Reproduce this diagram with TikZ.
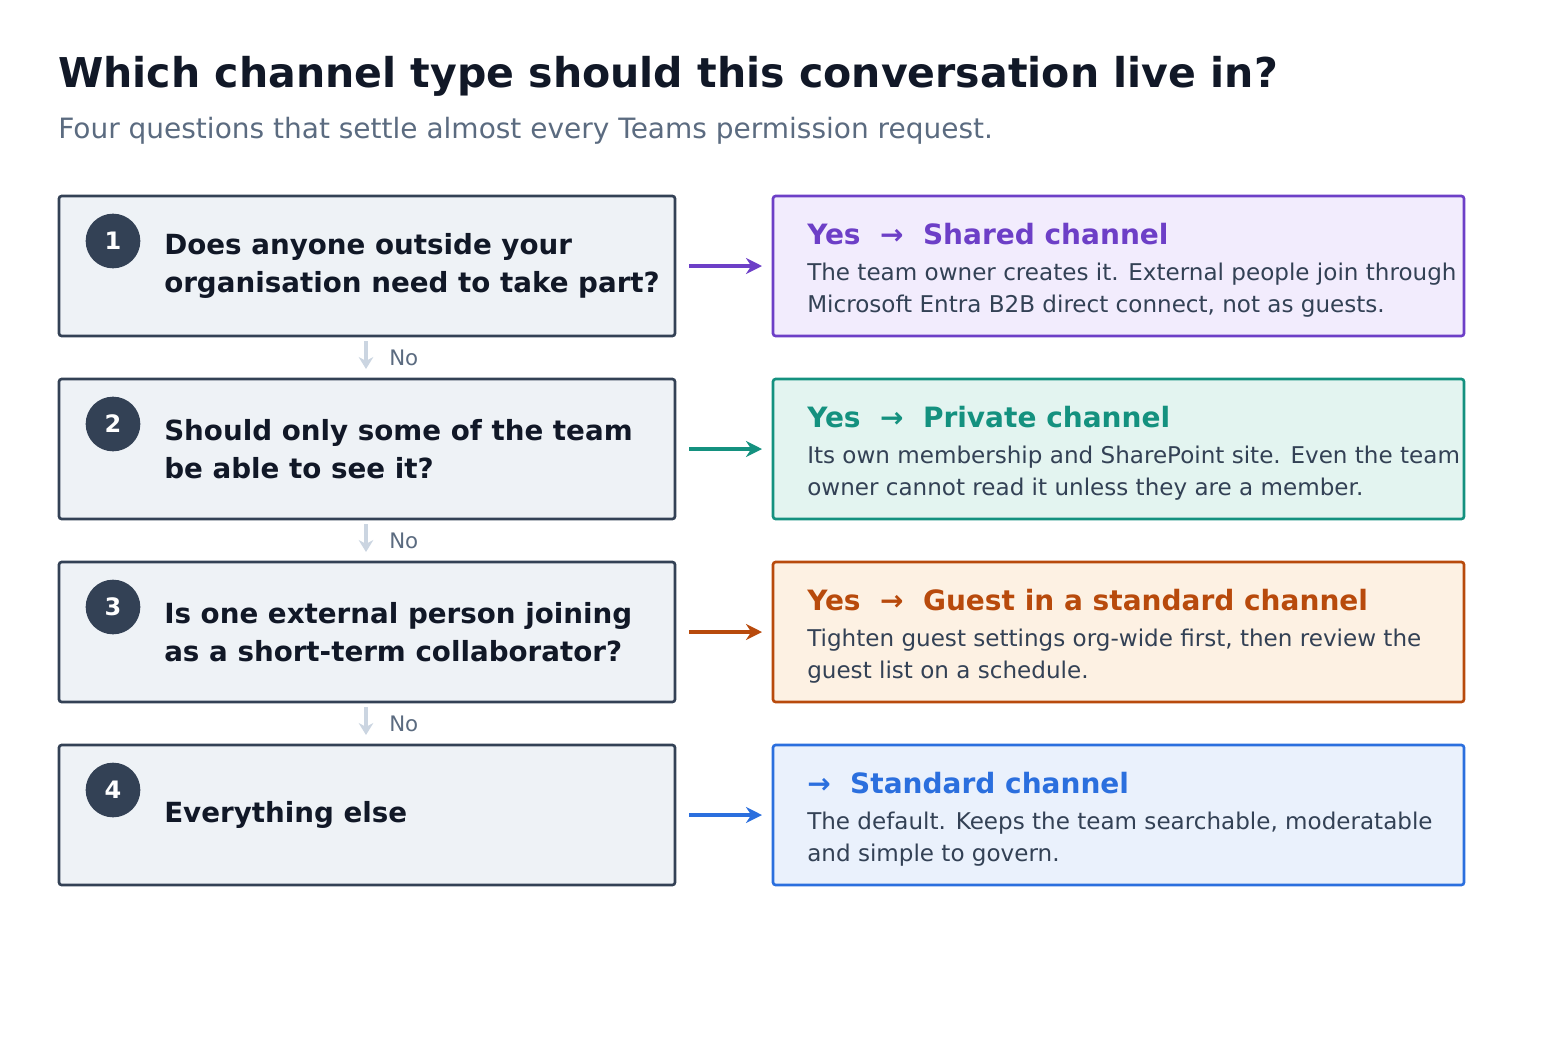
\documentclass[tikz,border=0pt]{standalone}
\usepackage{fontspec}
\setmainfont{DejaVu Sans}
\usetikzlibrary{positioning,arrows.meta}
\definecolor{ink}{HTML}{111827}
\definecolor{slate}{HTML}{334155}
\definecolor{muted}{HTML}{5B6B80}
\definecolor{qfill}{HTML}{EEF2F6}
\definecolor{nogrey}{HTML}{CBD5E1}
\definecolor{purp}{HTML}{6D3FC7}
\definecolor{purpfill}{HTML}{F2ECFD}
\definecolor{teal}{HTML}{14917F}
\definecolor{tealfill}{HTML}{E3F4F0}
\definecolor{rust}{HTML}{B84A0C}
\definecolor{rustfill}{HTML}{FDF1E3}
\definecolor{azure}{HTML}{2B6FDE}
\definecolor{azurefill}{HTML}{EAF1FC}
\tikzset{
  question/.style={draw=slate, fill=qfill, line width=2pt, rounded corners=2pt},
  answer/.style={line width=2pt, rounded corners=2pt},
  badge/.style={circle, fill=slate, minimum size=41pt, inner sep=0pt, text=white, font=\bfseries\fontsize{18}{18}\selectfont},
  qtext/.style={anchor=west, align=left, text=ink, inner sep=0pt, font=\bfseries\fontsize{20.8}{29}\selectfont},
  atitle/.style={anchor=base west, inner sep=0pt, font=\bfseries\fontsize{21}{21}\selectfont},
  abody/.style={anchor=base west, align=left, text=slate, inner sep=0pt, font=\fontsize{17.3}{24}\selectfont},
  go/.style={-{Stealth[length=12pt,width=12pt]}, line width=3.5pt},
  no/.style={-{Stealth[length=9pt,width=11pt]}, line width=3.5pt, draw=nogrey},
}
\begin{document}
\begin{tikzpicture}[x=0.75pt,y=-0.75pt]
  \useasboundingbox (0,0) rectangle (1560,1057);
  % heading
  \node[anchor=base west, inner sep=0pt, text=ink, font=\bfseries\fontsize{30.8}{31}\selectfont] (title) at (58,87) {Which channel type should this conversation live in?};
  \node[anchor=base west, inner sep=0pt, text=muted, font=\fontsize{21}{21}\selectfont] (subtitle) at (58,138) {Four questions that settle almost every Teams permission request.};
  % questions
  \draw[question] (59,196) rectangle (675,336);
  \draw[question] (59,379) rectangle (675,519);
  \draw[question] (59,562) rectangle (675,702);
  \draw[question] (59,745) rectangle (675,885);
  \node[badge] (b1) at (113,241) {1};
  \node[badge] (b2) at (113,424) {2};
  \node[badge] (b3) at (113,607) {3};
  \node[badge] (b4) at (113,790) {4};
  \node[qtext] (q1) at (164,266) {Does anyone outside your\\organisation need to take part?};
  \node[qtext] (q2) at (164,449) {Should only some of the team\\be able to see it?};
  \node[qtext] (q3) at (164,632) {Is one external person joining\\as a short-term collaborator?};
  \node[qtext] (q4) at (164,815) {Everything else};
  % answers
  \draw[answer, draw=purp, fill=purpfill] (773,196) rectangle (1464,336);
  \draw[answer, draw=teal, fill=tealfill] (773,379) rectangle (1464,519);
  \draw[answer, draw=rust, fill=rustfill] (773,562) rectangle (1464,702);
  \draw[answer, draw=azure, fill=azurefill] (773,745) rectangle (1464,885);
  \node[atitle, text=purp] (a1) at (807,244) {Yes~~→~~Shared channel};
  \node[abody] (d1) at (807,312) {The team owner creates it. External people join through\\Microsoft Entra B2B direct connect, not as guests.};
  \node[atitle, text=teal] (a2) at (807,427) {Yes~~→~~Private channel};
  \node[abody] (d2) at (807,495) {Its own membership and SharePoint site. Even the team\\owner cannot read it unless they are a member.};
  \node[atitle, text=rust] (a3) at (807,610) {Yes~~→~~Guest in a standard channel};
  \node[abody] (d3) at (807,678) {Tighten guest settings org-wide first, then review the\\guest list on a schedule.};
  \node[atitle, text=azure] (a4) at (807,793) {→~~Standard channel};
  \node[abody] (d4) at (807,861) {The default. Keeps the team searchable, moderatable\\and simple to govern.};
  % arrows
  \coordinate (s1) at (689,266); \coordinate (e1) at (762,266);
  \coordinate (s2) at (689,449); \coordinate (e2) at (762,449);
  \coordinate (s3) at (689,632); \coordinate (e3) at (762,632);
  \coordinate (s4) at (689,815); \coordinate (e4) at (762,815);
  \draw[go, purp] (s1) -- (e1);
  \draw[go, teal] (s2) -- (e2);
  \draw[go, rust] (s3) -- (e3);
  \draw[go, azure] (s4) -- (e4);
  % no links
  \coordinate (n1) at (366,341); \coordinate (m1) at (366,369);
  \coordinate (n2) at (366,524); \coordinate (m2) at (366,552);
  \coordinate (n3) at (366,707); \coordinate (m3) at (366,735);
  \draw[no] (n1) -- (m1);
  \draw[no] (n2) -- (m2);
  \draw[no] (n3) -- (m3);
  \node[anchor=west, inner sep=0pt, text=muted, font=\fontsize{16}{16}\selectfont] (l1) at (389,358) {No};
  \node[anchor=west, inner sep=0pt, text=muted, font=\fontsize{16}{16}\selectfont] (l2) at (389,541) {No};
  \node[anchor=west, inner sep=0pt, text=muted, font=\fontsize{16}{16}\selectfont] (l3) at (389,724) {No};
\end{tikzpicture}
\end{document}
